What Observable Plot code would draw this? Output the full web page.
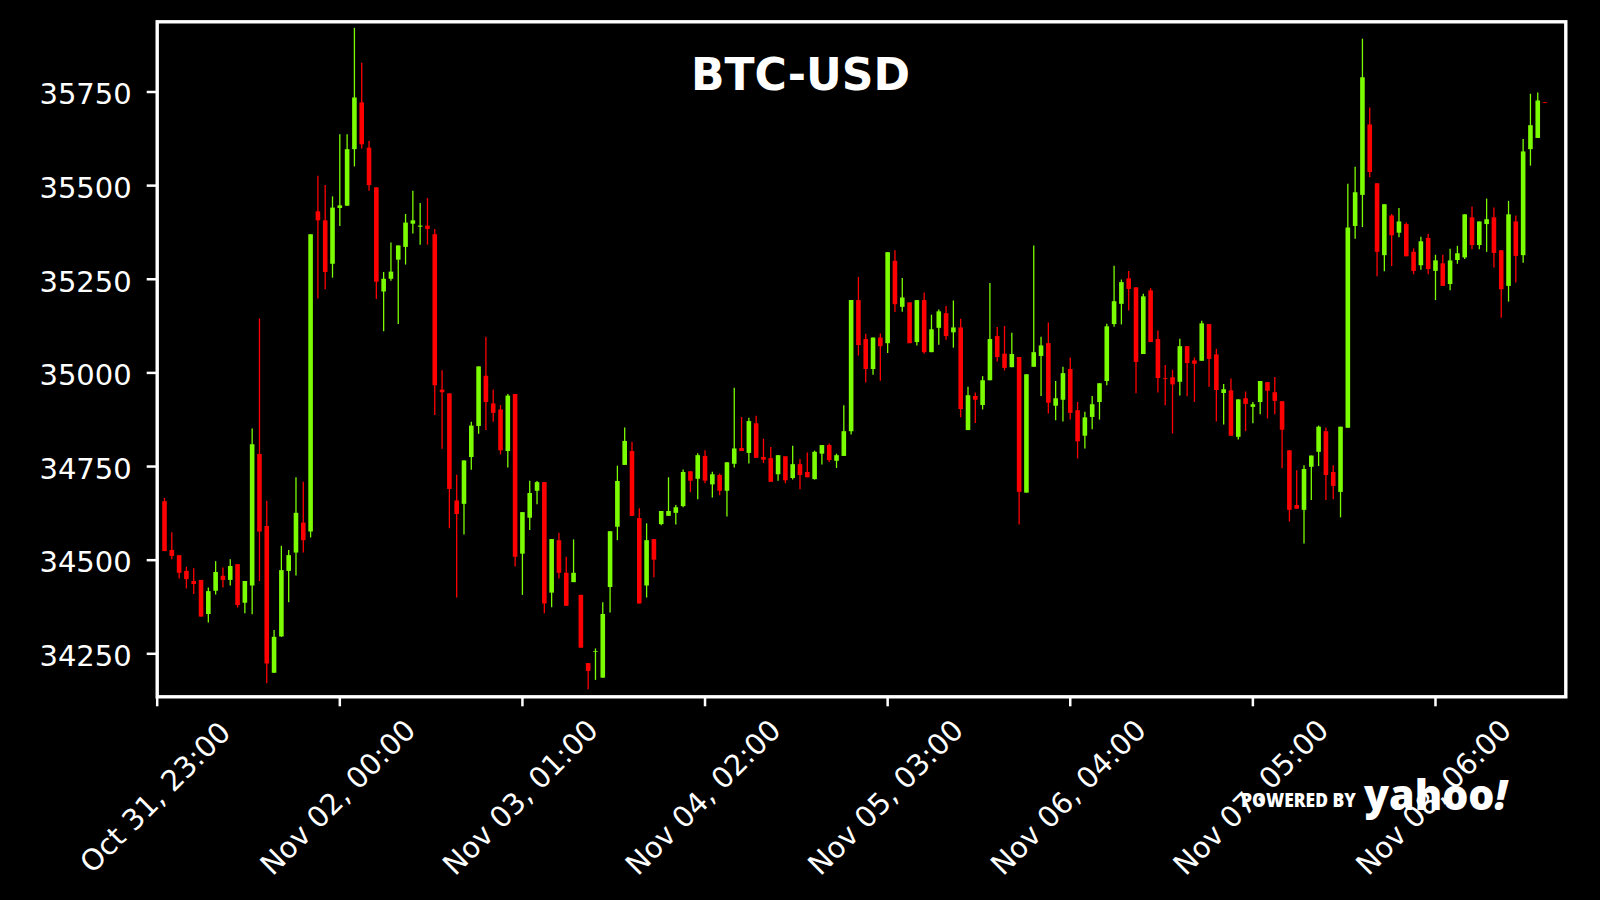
<!DOCTYPE html>
<html>
<head>
<meta charset="utf-8">
<script src="https://cdn.jsdelivr.net/npm/d3@7"></script>
<script src="https://cdn.jsdelivr.net/npm/@observablehq/plot@0.6"></script>
<style>
  html, body { margin: 0; padding: 0; background: #000; }
  #chart { width: 1600px; height: 900px; }
</style>
</head>
<body>
<div id="chart"></div>
<script>
// ---- Data (hourly BTC-USD candles, first candle Nov 01 00:00 UTC) ----
const title = "BTC-USD";
const firstCandleUTC = [2023, 10, 1, 0];   // Nov 01 2023, 00:00
const axisStartUTC = [2023, 9, 31, 23];    // Oct 31 2023, 23:00
const axisSpanHours = 192.84;

const opens = [
34656,34526,34512,34470,34443,34446,34355,34417,34457,34446,34488,34385,34431,34782,34590,34198,34295,34470,34519,34599,
34575,35430,35406,35290,35439,35445,35596,35721,35600,35494,35216,35250,35301,35335,35397,35389,35392,35369,34954,34944,
34658,34649,34774,34857,34991,34917,34901,34790,34942,34516,34612,34684,34707,34412,34552,34465,34440,34406,34224,34254,
34185,34427,34588,34753,34790,34611,34431,34555,34595,34617,34625,34643,34736,34716,34777,34701,34726,34684,34756,34798,
34785,34864,34774,34771,34728,34776,34718,34755,34734,34715,34783,34806,34764,34777,34843,35193,35089,35009,35093,35078,
35298,35175,35187,35081,35193,35054,35119,35158,35107,35120,34846,34937,34913,34979,35097,35050,35014,35041,34679,35015,
35044,35078,34911,34927,35009,34899,34831,34881,34921,34977,35129,35183,35251,35227,35049,35219,35089,34985,34987,34975,
35070,35032,35031,35129,35048,34945,34952,34828,34931,34908,34921,34974,34947,34923,34792,34646,34633,34748,34788,34843,
34734,34681,34852,35391,35474,35662,35505,35313,35419,35373,35396,35322,35286,35359,35271,35291,35236,35300,35307,35414,
35340,35396,35414,35326,35231,35403,35313,35596,35626,35721
];
const highs = [
34665,34573,34512,34481,34477,34446,34426,34496,34479,34501,34488,34443,34850,35144,34657,34312,34537,34526,34720,34708,
35369,35525,35500,35470,35636,35636,35920,35827,35618,35494,35268,35347,35339,35423,35485,35452,35466,35383,35006,34944,
34727,34765,34868,35016,35095,34954,34913,34942,34942,34627,34711,34710,34707,34555,34572,34508,34554,34406,34224,34263,
34386,34576,34751,34853,34815,34637,34597,34555,34630,34720,34646,34741,34736,34784,34792,34735,34730,34760,34959,34881,
34879,34884,34823,34801,34779,34776,34804,34769,34786,34791,34806,34810,34783,34912,35193,35255,35103,35093,35104,35321,
35326,35252,35187,35193,35213,35154,35168,35177,35192,35143,34962,34946,34990,35239,35121,35124,35106,35041,34995,35339,
35095,35133,34977,35015,35040,34921,34895,34937,34971,35130,35285,35248,35271,35227,35210,35225,35112,35020,35007,35090,
35070,35040,35138,35129,35063,34969,34984,34928,34949,34921,34977,34974,34988,34923,34792,34739,34752,34778,34858,34853,
34752,34855,35504,35549,35891,35707,35505,35449,35423,35439,35400,35331,35362,35370,35314,35314,35330,35338,35422,35443,
35403,35464,35440,35326,35458,35419,35623,35744,35747,35721
];
const lows = [
34523,34501,34450,34423,34408,34348,34332,34407,34426,34431,34372,34357,34354,34443,34170,34198,34294,34386,34458,34519,
34559,35197,35222,35253,35391,35445,35550,35598,35485,35196,35110,35245,35129,35288,35371,35341,35341,34886,34796,34584,
34399,34567,34740,34836,34846,34868,34781,34746,34482,34406,34579,34648,34357,34373,34450,34377,34440,34265,34154,34179,
34185,34359,34552,34753,34617,34383,34399,34453,34592,34617,34594,34640,34680,34661,34704,34666,34672,34615,34746,34790,
34757,34772,34758,34708,34711,34704,34714,34688,34720,34714,34754,34761,34745,34777,34834,35045,34973,34994,34978,35052,
35161,35162,35078,35072,35050,35054,35074,35087,35066,34880,34846,34865,34901,34979,35029,35005,35014,34594,34679,35015,
34937,34890,34872,34869,34874,34770,34797,34848,34874,34966,35122,35128,35165,34944,35049,35081,34946,34912,34837,34938,
34936,34921,35031,34962,34869,34861,34831,34821,34843,34864,34888,34877,34888,34744,34602,34636,34543,34659,34750,34659,
34661,34613,34852,35357,35388,35521,35257,35270,35284,35361,35310,35262,35274,35262,35193,35231,35219,35290,35303,35329,
35329,35322,35280,35146,35189,35240,35293,35552,35626,35719
];
const closes = [
34523,34510,34465,34448,34435,34348,34416,34467,34446,34483,34379,34443,34808,34575,34223,34294,34472,34512,34625,34552,
35369,35406,35268,35440,35446,35596,35734,35609,35500,35242,35250,35269,35339,35400,35406,35392,35383,34966,34947,34689,
34622,34765,34858,35016,34921,34892,34792,34938,34508,34627,34678,34707,34383,34555,34465,34377,34465,34265,34203,34256,
34355,34576,34710,34817,34617,34383,34552,34500,34630,34630,34640,34734,34711,34779,34711,34728,34684,34760,34797,34790,
34870,34772,34767,34708,34779,34712,34755,34726,34720,34788,34806,34766,34779,34843,35193,35073,35009,35093,35070,35321,
35182,35200,35078,35193,35054,35115,35163,35097,35120,34902,34939,34927,34979,35089,35041,35012,35049,34681,34995,35054,
35072,34919,34931,34998,34892,34816,34880,34915,34971,35123,35190,35241,35223,35028,35203,35081,34985,34983,34968,35070,
35025,35023,35131,35036,34953,34955,34831,34928,34916,34915,34977,34951,34924,34847,34633,34636,34742,34778,34855,34726,
34697,34855,35387,35481,35788,35535,35322,35449,35366,35403,35310,35271,35350,35276,35299,35231,35299,35318,35422,35340,
35403,35409,35319,35222,35422,35311,35590,35660,35726,35719
];

const yTicks = [34250, 34500, 34750, 35000, 35250, 35500, 35750];
const xTickLabels = ["Oct 31, 23:00", "Nov 02, 00:00", "Nov 03, 01:00", "Nov 04, 02:00",
                     "Nov 05, 03:00", "Nov 06, 04:00", "Nov 07, 05:00", "Nov 08, 06:00"];
const xTickUTC = [[2023,9,31,23],[2023,10,2,0],[2023,10,3,1],[2023,10,4,2],
                  [2023,10,5,3],[2023,10,6,4],[2023,10,7,5],[2023,10,8,6]];

const upColor = "#7CFC00";
const downColor = "#FF0000";

// ---- Build table ----
const HOUR = 3600e3;
const t0 = Date.UTC(...firstCandleUTC);
const candles = opens.map((o, i) => ({
  t: new Date(t0 + i * HOUR), o, h: highs[i], l: lows[i], c: closes[i]
}));
const xTicks = xTickUTC.map(a => new Date(Date.UTC(...a)));
const axisStart = Date.UTC(...axisStartUTC);
const colorOf = d => (d.c >= d.o ? upColor : downColor);

const FONT = "DejaVu Sans, Liberation Sans, sans-serif";

const chart = Plot.plot({
  width: 1600,
  height: 900,
  marginLeft: 156.7,
  marginRight: 34.7,
  marginTop: 21.3,
  marginBottom: 203.7,
  style: { background: "#000", color: "#fff", fontFamily: FONT },
  x: { type: "utc", domain: [new Date(axisStart), new Date(axisStart + axisSpanHours * HOUR)], axis: null },
  y: { domain: [34135.2, 35937.4], axis: null },
  marks: [
    Plot.ruleX(candles, { x: "t", y1: "l", y2: "h", stroke: colorOf, strokeWidth: 1.3 }),
    Plot.ruleX(candles, { x: "t", y1: "o", y2: "c", stroke: colorOf, strokeWidth: 4.6 }),
    Plot.frame({ stroke: "#fff", strokeWidth: 3.4 }),
    Plot.axisY({ ticks: yTicks, tickSize: 10, tickFormat: () => "", strokeWidth: 2.5, label: null }),
    Plot.text(yTicks, {
      y: d => d, text: d => String(d), frameAnchor: "left", dx: -25.5, dy: 3,
      textAnchor: "end", lineAnchor: "middle", fontSize: 29, fill: "#fff"
    }),
    Plot.axisX({ ticks: xTicks, tickSize: 10, tickFormat: () => "", strokeWidth: 2.5, label: null }),
    Plot.text(xTicks, {
      x: d => d, text: (d, i) => xTickLabels[i], frameAnchor: "bottom", dy: 101, dx: -1.5,
      rotate: -45, textAnchor: "middle", lineAnchor: "middle", fontSize: 29, fill: "#fff"
    }),
    Plot.text([title], {
      frameAnchor: "top", dx: -61, dy: 36.5, lineAnchor: "top",
      fontSize: 44, fontWeight: "bold", fill: "#fff"
    })
  ]
});

document.getElementById("chart").appendChild(chart);

// ---- "POWERED BY yahoo!" watermark (text) ----
const svg = d3.select(chart);
const logo = svg.append("g")
  .attr("fill", "#fff")
  .attr("text-anchor", "start")
  .attr("font-family", "'Open Sans', Lato, sans-serif");
logo.append("text")
  .attr("x", 1241).attr("y", 806.7)
  .attr("text-anchor", "start")
  .attr("font-size", 18.5).attr("font-weight", 800)
  .attr("textLength", 115).attr("lengthAdjust", "spacingAndGlyphs")
  .text("POWERED BY");
const yh = logo.append("text")
  .attr("x", 1364).attr("y", 810)
  .attr("text-anchor", "start")
  .attr("font-size", 43).attr("font-weight", 800)
  .attr("textLength", 143).attr("lengthAdjust", "spacingAndGlyphs");
yh.append("tspan").text("yahoo");
yh.append("tspan").attr("font-style", "italic").text("!");
</script>
</body>
</html>
